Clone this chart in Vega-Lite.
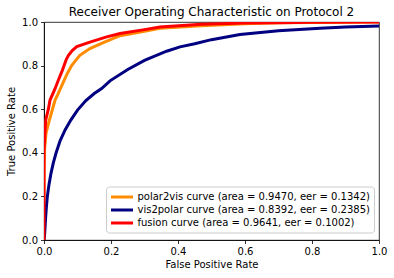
{
  "$schema": "https://vega.github.io/schema/vega-lite/v6.json",
  "width": 335,
  "height": 218,
  "autosize": {"type": "none"},
  "padding": {"left": 44, "top": 22, "right": 15, "bottom": 38},
  "title": {
    "text": "Receiver Operating Characteristic on Protocol 2",
    "font": "DejaVu Sans",
    "fontSize": 12,
    "fontWeight": "normal",
    "color": "#000000",
    "frame": "group",
    "offset": -2
  },
  "config": {
    "font": "DejaVu Sans",
    "view": {"stroke": "#000000", "strokeWidth": 0.8},
    "axis": {
      "grid": false,
      "labelFlush": false,
      "domainColor": "#000000",
      "domainWidth": 0.8,
      "tickColor": "#000000",
      "tickWidth": 0.8,
      "tickSize": 3.5,
      "labelFont": "DejaVu Sans",
      "labelFontSize": 10,
      "labelColor": "#000000",
      "labelPadding": 3,
      "titleFont": "DejaVu Sans",
      "titleFontSize": 10,
      "titleFontWeight": "normal",
      "titleColor": "#000000"
    },
    "legend": {
      "orient": "none",
      "legendX": 62,
      "legendY": 164.5,
      "symbolType": "M-1,0H3",
      "symbolStrokeWidth": 3,
      "symbolSize": 121,
      "labelFont": "DejaVu Sans",
      "labelFontSize": 10,
      "labelColor": "#000000",
      "labelLimit": 0,
      "labelOffset": 14,
      "rowPadding": 0,
      "padding": 3.5,
      "cornerRadius": 3,
      "strokeColor": "#cccccc",
      "fillColor": "#ffffff"
    }
  },
  "data": {
    "values": [
      {"curve": "polar2vis curve (area = 0.9470, eer = 0.1342)", "fpr": 0.0, "tpr": 0.0},
      {"curve": "polar2vis curve (area = 0.9470, eer = 0.1342)", "fpr": 0.0, "tpr": 0.3},
      {"curve": "polar2vis curve (area = 0.9470, eer = 0.1342)", "fpr": 0.002, "tpr": 0.42},
      {"curve": "polar2vis curve (area = 0.9470, eer = 0.1342)", "fpr": 0.006, "tpr": 0.49},
      {"curve": "polar2vis curve (area = 0.9470, eer = 0.1342)", "fpr": 0.016, "tpr": 0.55},
      {"curve": "polar2vis curve (area = 0.9470, eer = 0.1342)", "fpr": 0.023, "tpr": 0.587},
      {"curve": "polar2vis curve (area = 0.9470, eer = 0.1342)", "fpr": 0.033, "tpr": 0.642},
      {"curve": "polar2vis curve (area = 0.9470, eer = 0.1342)", "fpr": 0.042, "tpr": 0.67},
      {"curve": "polar2vis curve (area = 0.9470, eer = 0.1342)", "fpr": 0.058, "tpr": 0.725},
      {"curve": "polar2vis curve (area = 0.9470, eer = 0.1342)", "fpr": 0.07, "tpr": 0.765},
      {"curve": "polar2vis curve (area = 0.9470, eer = 0.1342)", "fpr": 0.083, "tpr": 0.801},
      {"curve": "polar2vis curve (area = 0.9470, eer = 0.1342)", "fpr": 0.096, "tpr": 0.826},
      {"curve": "polar2vis curve (area = 0.9470, eer = 0.1342)", "fpr": 0.107, "tpr": 0.847},
      {"curve": "polar2vis curve (area = 0.9470, eer = 0.1342)", "fpr": 0.137, "tpr": 0.878},
      {"curve": "polar2vis curve (area = 0.9470, eer = 0.1342)", "fpr": 0.177, "tpr": 0.905},
      {"curve": "polar2vis curve (area = 0.9470, eer = 0.1342)", "fpr": 0.2, "tpr": 0.92},
      {"curve": "polar2vis curve (area = 0.9470, eer = 0.1342)", "fpr": 0.227, "tpr": 0.937},
      {"curve": "polar2vis curve (area = 0.9470, eer = 0.1342)", "fpr": 0.3, "tpr": 0.958},
      {"curve": "polar2vis curve (area = 0.9470, eer = 0.1342)", "fpr": 0.346, "tpr": 0.971},
      {"curve": "polar2vis curve (area = 0.9470, eer = 0.1342)", "fpr": 0.47, "tpr": 0.983},
      {"curve": "polar2vis curve (area = 0.9470, eer = 0.1342)", "fpr": 0.6, "tpr": 0.992},
      {"curve": "polar2vis curve (area = 0.9470, eer = 0.1342)", "fpr": 0.7, "tpr": 0.996},
      {"curve": "polar2vis curve (area = 0.9470, eer = 0.1342)", "fpr": 0.8, "tpr": 0.998},
      {"curve": "polar2vis curve (area = 0.9470, eer = 0.1342)", "fpr": 0.9, "tpr": 0.999},
      {"curve": "polar2vis curve (area = 0.9470, eer = 0.1342)", "fpr": 1.0, "tpr": 1.0},

      {"curve": "vis2polar curve (area = 0.8392, eer = 0.2385)", "fpr": 0.0, "tpr": 0.0},
      {"curve": "vis2polar curve (area = 0.8392, eer = 0.2385)", "fpr": 0.002, "tpr": 0.03},
      {"curve": "vis2polar curve (area = 0.8392, eer = 0.2385)", "fpr": 0.005, "tpr": 0.107},
      {"curve": "vis2polar curve (area = 0.8392, eer = 0.2385)", "fpr": 0.007, "tpr": 0.15},
      {"curve": "vis2polar curve (area = 0.8392, eer = 0.2385)", "fpr": 0.01, "tpr": 0.2},
      {"curve": "vis2polar curve (area = 0.8392, eer = 0.2385)", "fpr": 0.015, "tpr": 0.255},
      {"curve": "vis2polar curve (area = 0.8392, eer = 0.2385)", "fpr": 0.021, "tpr": 0.307},
      {"curve": "vis2polar curve (area = 0.8392, eer = 0.2385)", "fpr": 0.028, "tpr": 0.355},
      {"curve": "vis2polar curve (area = 0.8392, eer = 0.2385)", "fpr": 0.036, "tpr": 0.399},
      {"curve": "vis2polar curve (area = 0.8392, eer = 0.2385)", "fpr": 0.048, "tpr": 0.455},
      {"curve": "vis2polar curve (area = 0.8392, eer = 0.2385)", "fpr": 0.063, "tpr": 0.505},
      {"curve": "vis2polar curve (area = 0.8392, eer = 0.2385)", "fpr": 0.08, "tpr": 0.55},
      {"curve": "vis2polar curve (area = 0.8392, eer = 0.2385)", "fpr": 0.1, "tpr": 0.596},
      {"curve": "vis2polar curve (area = 0.8392, eer = 0.2385)", "fpr": 0.125, "tpr": 0.64},
      {"curve": "vis2polar curve (area = 0.8392, eer = 0.2385)", "fpr": 0.15, "tpr": 0.672},
      {"curve": "vis2polar curve (area = 0.8392, eer = 0.2385)", "fpr": 0.172, "tpr": 0.695},
      {"curve": "vis2polar curve (area = 0.8392, eer = 0.2385)", "fpr": 0.197, "tpr": 0.73},
      {"curve": "vis2polar curve (area = 0.8392, eer = 0.2385)", "fpr": 0.25, "tpr": 0.782},
      {"curve": "vis2polar curve (area = 0.8392, eer = 0.2385)", "fpr": 0.3, "tpr": 0.824},
      {"curve": "vis2polar curve (area = 0.8392, eer = 0.2385)", "fpr": 0.366, "tpr": 0.866},
      {"curve": "vis2polar curve (area = 0.8392, eer = 0.2385)", "fpr": 0.406, "tpr": 0.886},
      {"curve": "vis2polar curve (area = 0.8392, eer = 0.2385)", "fpr": 0.45, "tpr": 0.9},
      {"curve": "vis2polar curve (area = 0.8392, eer = 0.2385)", "fpr": 0.5, "tpr": 0.919},
      {"curve": "vis2polar curve (area = 0.8392, eer = 0.2385)", "fpr": 0.585, "tpr": 0.943},
      {"curve": "vis2polar curve (area = 0.8392, eer = 0.2385)", "fpr": 0.7, "tpr": 0.96},
      {"curve": "vis2polar curve (area = 0.8392, eer = 0.2385)", "fpr": 0.824, "tpr": 0.971},
      {"curve": "vis2polar curve (area = 0.8392, eer = 0.2385)", "fpr": 0.9, "tpr": 0.977},
      {"curve": "vis2polar curve (area = 0.8392, eer = 0.2385)", "fpr": 1.0, "tpr": 0.982},

      {"curve": "fusion curve (area = 0.9641, eer = 0.1002)", "fpr": 0.0, "tpr": 0.0},
      {"curve": "fusion curve (area = 0.9641, eer = 0.1002)", "fpr": 0.0, "tpr": 0.41},
      {"curve": "fusion curve (area = 0.9641, eer = 0.1002)", "fpr": 0.005, "tpr": 0.55},
      {"curve": "fusion curve (area = 0.9641, eer = 0.1002)", "fpr": 0.013, "tpr": 0.6},
      {"curve": "fusion curve (area = 0.9641, eer = 0.1002)", "fpr": 0.018, "tpr": 0.642},
      {"curve": "fusion curve (area = 0.9641, eer = 0.1002)", "fpr": 0.033, "tpr": 0.694},
      {"curve": "fusion curve (area = 0.9641, eer = 0.1002)", "fpr": 0.043, "tpr": 0.734},
      {"curve": "fusion curve (area = 0.9641, eer = 0.1002)", "fpr": 0.053, "tpr": 0.771},
      {"curve": "fusion curve (area = 0.9641, eer = 0.1002)", "fpr": 0.066, "tpr": 0.826},
      {"curve": "fusion curve (area = 0.9641, eer = 0.1002)", "fpr": 0.073, "tpr": 0.847},
      {"curve": "fusion curve (area = 0.9641, eer = 0.1002)", "fpr": 0.085, "tpr": 0.87},
      {"curve": "fusion curve (area = 0.9641, eer = 0.1002)", "fpr": 0.098, "tpr": 0.887},
      {"curve": "fusion curve (area = 0.9641, eer = 0.1002)", "fpr": 0.137, "tpr": 0.908},
      {"curve": "fusion curve (area = 0.9641, eer = 0.1002)", "fpr": 0.187, "tpr": 0.932},
      {"curve": "fusion curve (area = 0.9641, eer = 0.1002)", "fpr": 0.227, "tpr": 0.947},
      {"curve": "fusion curve (area = 0.9641, eer = 0.1002)", "fpr": 0.3, "tpr": 0.965},
      {"curve": "fusion curve (area = 0.9641, eer = 0.1002)", "fpr": 0.346, "tpr": 0.977},
      {"curve": "fusion curve (area = 0.9641, eer = 0.1002)", "fpr": 0.47, "tpr": 0.99},
      {"curve": "fusion curve (area = 0.9641, eer = 0.1002)", "fpr": 0.6, "tpr": 0.995},
      {"curve": "fusion curve (area = 0.9641, eer = 0.1002)", "fpr": 0.7, "tpr": 0.997},
      {"curve": "fusion curve (area = 0.9641, eer = 0.1002)", "fpr": 0.8, "tpr": 0.999},
      {"curve": "fusion curve (area = 0.9641, eer = 0.1002)", "fpr": 1.0, "tpr": 1.0}
    ]
  },
  "mark": {"type": "line", "strokeWidth": 3, "clip": true},
  "encoding": {
    "x": {
      "field": "fpr",
      "type": "quantitative",
      "scale": {"domain": [0, 1], "nice": false, "zero": false},
      "axis": {"title": "False Positive Rate", "values": [0, 0.2, 0.4, 0.6, 0.8, 1.0], "format": ".1f", "titlePadding": 3}
    },
    "y": {
      "field": "tpr",
      "type": "quantitative",
      "scale": {"domain": [0, 1], "nice": false, "zero": false},
      "axis": {"title": "True Positive Rate", "values": [0, 0.2, 0.4, 0.6, 0.8, 1.0], "format": ".1f", "titlePadding": 5}
    },
    "color": {
      "field": "curve",
      "type": "nominal",
      "sort": null,
      "scale": {
        "domain": [
          "polar2vis curve (area = 0.9470, eer = 0.1342)",
          "vis2polar curve (area = 0.8392, eer = 0.2385)",
          "fusion curve (area = 0.9641, eer = 0.1002)"
        ],
        "range": ["#ff8c00", "#000080", "#ff0000"]
      },
      "legend": {"title": null}
    },
    "order": {"value": null}
  }
}
